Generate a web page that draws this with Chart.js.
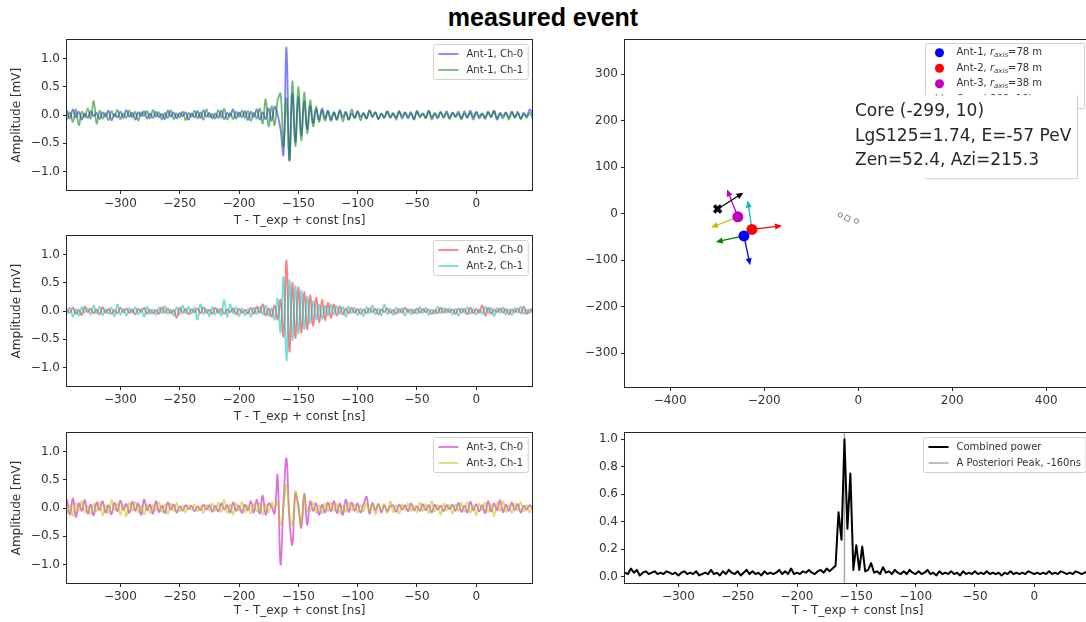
<!DOCTYPE html>
<html>
<head>
<meta charset="utf-8">
<script src="https://cdn.jsdelivr.net/npm/chart.js@4.4.0/dist/chart.umd.min.js"></script>
<style>
html, body { margin: 0; padding: 0; background: #fff; }
body { width: 1086px; height: 622px; overflow: hidden; position: relative; }
#title { position: absolute; left: 0; top: 3px; width: 1086px; text-align: center;
         font: bold 25px "Liberation Sans", Arial, sans-serif; color: #000; }
canvas { position: absolute; }
</style>
</head>
<body>
<div id="title">measured event</div>
<canvas id="ant1" width="545" height="200" style="left:0;top:30px"></canvas>
<canvas id="ant2" width="545" height="200" style="left:0;top:226px"></canvas>
<canvas id="ant3" width="545" height="200" style="left:0;top:422px"></canvas>
<canvas id="map" width="545" height="382" style="left:558px;top:30px"></canvas>
<canvas id="power" width="545" height="200" style="left:558px;top:422px"></canvas>
<script>
// sample times [ns]
var timeNs = [
  -345,-342.5,-340,-337.5,-335,-332.5,-330,-327.5,-325,-322.5,
  -320,-317.5,-315,-312.5,-310,-307.5,-305,-302.5,-300,-297.5,
  -295,-292.5,-290,-287.5,-285,-282.5,-280,-277.5,-275,-272.5,
  -270,-267.5,-265,-262.5,-260,-257.5,-255,-252.5,-250,-247.5,
  -245,-242.5,-240,-237.5,-235,-232.5,-230,-227.5,-225,-222.5,
  -220,-217.5,-215,-212.5,-210,-207.5,-205,-202.5,-200,-197.5,
  -195,-192.5,-190,-187.5,-185,-182.5,-180,-177.5,-175,-172.5,
  -170,-167.5,-165,-162.5,-160,-157.5,-155,-152.5,-150,-147.5,
  -145,-142.5,-140,-137.5,-135,-132.5,-130,-127.5,-125,-122.5,
  -120,-117.5,-115,-112.5,-110,-107.5,-105,-102.5,-100,-97.5,
  -95,-92.5,-90,-87.5,-85,-82.5,-80,-77.5,-75,-72.5,
  -70,-67.5,-65,-62.5,-60,-57.5,-55,-52.5,-50,-47.5,
  -45,-42.5,-40,-37.5,-35,-32.5,-30,-27.5,-25,-22.5,
  -20,-17.5,-15,-12.5,-10,-7.5,-5,-2.5,0,2.5,
  5,7.5,10,12.5,15,17.5,20,22.5,25,27.5,
  30,32.5,35,37.5,40,42.5,45,47.5
];

var ant1Ch0 = [
  0.08,-0.06,0.10,-0.04,0.06,-0.08,0.03,-0.05,0.07,-0.02,
  0.04,-0.07,0.05,-0.03,0.08,-0.09,0.02,-0.04,0.06,-0.05,
  0.09,-0.03,0.04,-0.08,0.05,-0.02,0.07,-0.06,0.03,-0.05,
  0.06,-0.04,0.02,-0.07,0.08,-0.03,0.05,-0.06,0.04,-0.02,
  0.05,-0.08,0.03,-0.04,0.07,-0.05,0.09,-0.03,0.04,-0.06,
  0.03,-0.05,0.08,-0.07,0.04,-0.02,0.10,-0.06,0.05,-0.04,
  0.07,-0.09,0.06,-0.03,0.10,-0.08,0.05,-0.07,0.12,-0.10,
  0.15,0.02,-0.25,-0.70,1.20,-0.80,0.38,-0.48,0.32,-0.36,
  0.24,-0.25,0.16,-0.14,0.10,-0.08,0.12,-0.06,0.08,-0.10,
  0.05,-0.07,0.09,-0.04,0.06,-0.08,0.03,-0.05,0.07,-0.03,
  0.04,-0.06,0.08,-0.02,0.05,-0.07,0.03,-0.04,0.06,-0.05,
  0.02,-0.04,0.07,-0.06,0.04,-0.03,0.05,-0.08,0.06,-0.02,
  0.03,-0.05,0.08,-0.04,0.02,-0.06,0.05,-0.03,0.07,-0.05,
  0.04,-0.02,0.06,-0.07,0.03,-0.05,0.08,-0.04,0.05,-0.06,
  0.02,-0.04,0.06,-0.03,0.07,-0.08,0.04,-0.02,0.05,-0.04,
  0.06,-0.05,0.03,-0.06,0.04,-0.02,0.10,0.02
];
var ant1Ch1 = [
  -0.08,0.05,-0.12,0.10,-0.18,0.06,-0.04,0.12,-0.06,0.25,
  -0.15,0.08,-0.06,0.04,-0.09,0.07,-0.03,0.09,-0.07,0.03,
  -0.05,0.08,-0.04,0.06,-0.10,0.05,-0.02,0.07,-0.06,0.09,
  -0.03,0.05,-0.08,0.04,-0.05,0.09,-0.07,0.03,-0.04,0.06,
  -0.09,0.04,-0.03,0.08,-0.06,0.05,-0.08,0.10,-0.04,0.02,
  -0.06,0.09,-0.05,0.11,-0.08,0.04,-0.07,0.06,-0.03,0.08,
  -0.05,0.07,-0.10,0.04,-0.06,0.12,-0.15,0.28,-0.20,0.16,
  -0.18,0.25,0.38,-0.55,0.30,-0.80,0.60,-0.55,0.50,-0.45,
  0.40,-0.32,0.26,-0.20,0.15,-0.12,0.08,-0.10,0.06,-0.08,
  0.05,-0.09,0.07,-0.11,0.04,-0.08,0.10,-0.05,0.06,-0.09,
  0.03,-0.06,0.08,-0.04,0.05,-0.07,0.02,-0.05,0.07,-0.03,
  0.04,-0.08,0.06,-0.02,0.05,-0.06,0.03,-0.07,0.08,-0.04,
  0.02,-0.05,0.07,-0.08,0.04,-0.03,0.06,-0.05,0.03,-0.07,
  0.05,-0.04,0.02,-0.06,0.07,-0.03,0.04,-0.08,0.06,-0.02,
  0.03,-0.07,0.05,-0.04,0.08,-0.05,0.02,-0.06,0.04,-0.08,
  0.05,-0.03,0.06,-0.07,0.02,-0.05,0.04,-0.06
];
var ant2Ch0 = [
  0.04,-0.03,0.06,-0.05,0.02,-0.07,0.08,-0.02,0.05,-0.04,
  0.03,-0.06,0.07,-0.03,0.04,-0.05,0.02,-0.04,0.06,-0.02,
  0.05,-0.03,0.03,-0.06,0.04,-0.02,0.06,-0.05,0.03,-0.04,
  0.02,-0.05,0.07,-0.03,0.05,-0.04,0.02,-0.12,0.06,-0.03,
  0.04,-0.06,0.03,-0.02,0.05,-0.04,0.07,-0.03,0.02,-0.05,
  0.06,-0.03,0.04,-0.05,0.03,-0.02,0.05,-0.06,0.04,-0.03,
  0.02,-0.04,0.06,-0.05,0.08,-0.03,0.12,-0.08,0.05,-0.10,
  0.10,-0.15,0.20,-0.45,0.90,-0.72,0.50,-0.48,0.42,-0.38,
  0.34,-0.32,0.28,-0.26,0.24,-0.20,0.20,-0.16,0.15,-0.12,
  0.12,-0.08,0.09,-0.06,0.05,-0.04,0.06,-0.03,0.04,-0.05,
  0.03,-0.04,0.05,-0.02,0.04,-0.06,0.03,-0.02,0.05,-0.03,
  0.02,-0.05,0.04,-0.03,0.06,-0.02,0.03,-0.04,0.05,-0.03,
  0.04,-0.02,0.03,-0.05,0.02,-0.04,0.06,-0.03,0.04,-0.02,
  0.03,-0.05,0.05,-0.03,0.04,-0.06,0.06,-0.04,0.04,-0.03,
  0.10,-0.08,0.06,-0.05,0.03,-0.02,0.05,-0.03,0.04,-0.06,
  0.03,-0.02,0.05,-0.04,0.08,-0.05,0.03,-0.02
];
var ant2Ch1 = [
  -0.05,0.06,-0.10,0.04,-0.08,0.07,-0.03,0.05,-0.06,0.10,
  -0.04,0.08,-0.07,0.03,-0.05,0.06,-0.09,0.12,-0.06,0.04,
  -0.08,0.05,-0.03,0.07,-0.06,0.04,-0.10,0.08,-0.05,0.03,
  -0.07,0.06,-0.04,0.09,-0.05,0.03,-0.08,0.07,-0.06,0.10,
  -0.04,0.08,-0.05,0.06,-0.15,0.12,-0.05,0.04,-0.09,0.07,
  -0.06,0.05,-0.08,0.20,-0.10,0.12,-0.04,0.07,-0.09,0.05,
  -0.07,0.04,-0.10,0.06,-0.05,0.08,-0.06,0.10,-0.08,0.05,
  -0.15,0.22,-0.38,0.60,-0.88,0.55,-0.52,0.45,-0.40,0.36,
  -0.32,0.26,-0.22,0.18,-0.15,0.12,-0.14,0.10,-0.08,0.12,
  -0.06,0.09,-0.05,0.07,-0.10,0.08,-0.04,0.06,-0.07,0.05,
  -0.09,0.07,-0.04,0.10,-0.06,0.05,-0.08,0.12,-0.05,0.04,
  -0.07,0.06,-0.03,0.05,-0.08,0.04,-0.06,0.03,-0.05,0.07,
  -0.04,0.06,-0.07,0.03,-0.05,0.08,-0.04,0.06,-0.03,0.05,
  -0.06,0.04,-0.08,0.05,-0.03,0.07,-0.05,0.04,-0.06,0.03,
  -0.05,0.08,-0.04,0.06,-0.09,0.05,-0.03,0.07,-0.06,0.04,
  -0.07,0.05,-0.03,0.08,-0.05,0.03,-0.04,0.06
];
var ant3Ch0 = [
  0.15,-0.12,0.17,-0.16,0.08,-0.05,0.14,-0.10,0.06,-0.13,
  0.10,-0.04,0.12,-0.08,0.05,-0.11,0.09,-0.06,0.13,-0.03,
  0.07,-0.09,0.11,-0.05,0.08,-0.12,0.15,-0.04,0.06,-0.10,
  0.12,-0.07,0.04,-0.09,0.10,-0.03,0.06,-0.08,0.03,-0.05,
  0.05,-0.02,0.04,-0.06,0.03,-0.04,0.06,-0.03,0.05,-0.07,
  0.04,-0.06,0.08,-0.03,0.05,-0.08,0.10,-0.05,0.04,-0.09,
  0.06,-0.04,0.12,-0.08,0.15,-0.10,0.22,-0.12,0.08,0.02,
  -0.10,0.58,-1.00,0.10,0.88,-0.20,-0.65,0.25,0.05,-0.35,
  0.25,-0.30,0.12,-0.05,0.08,-0.12,0.06,-0.08,0.10,-0.06,
  0.12,-0.09,0.08,-0.12,0.15,-0.07,0.10,-0.05,0.08,-0.08,
  0.06,0.20,-0.10,0.09,-0.04,0.07,-0.08,0.05,-0.06,0.03,
  0.04,-0.07,0.06,-0.03,0.05,-0.06,0.08,-0.04,0.03,-0.05,
  0.07,-0.04,0.05,-0.08,0.06,-0.03,0.04,-0.06,0.05,-0.02,
  0.06,-0.05,0.09,-0.07,0.04,-0.08,0.11,-0.04,0.07,-0.06,
  0.05,-0.09,0.12,-0.06,0.08,-0.04,0.14,-0.07,0.06,-0.05,
  0.10,-0.04,0.07,-0.08,0.04,-0.03,0.05,-0.02
];
var ant3Ch1 = [
  -0.10,0.06,-0.14,0.09,-0.05,0.12,-0.08,0.04,-0.11,0.07,
  -0.06,0.10,-0.13,0.05,-0.09,0.14,-0.04,0.08,-0.12,0.06,
  -0.15,0.09,-0.05,0.11,-0.08,0.04,-0.12,0.07,-0.09,0.05,
  -0.04,0.10,-0.07,0.06,-0.11,0.08,-0.05,0.09,-0.06,0.04,
  -0.08,0.05,-0.03,0.07,-0.06,0.04,-0.09,0.06,-0.04,0.08,
  -0.05,0.10,-0.07,0.15,-0.09,0.06,-0.12,0.08,-0.05,0.11,
  -0.08,0.05,-0.10,0.07,-0.06,0.09,-0.12,0.06,-0.08,0.10,
  0.00,0.10,-0.30,0.00,0.42,-0.10,-0.30,0.30,0.00,-0.30,
  0.25,-0.05,-0.05,0.10,-0.08,0.05,-0.10,0.08,-0.06,0.09,
  -0.05,0.07,-0.09,0.05,-0.07,0.10,-0.04,0.06,-0.08,0.04,
  -0.06,0.09,-0.05,0.08,-0.11,0.06,-0.04,0.07,-0.09,0.12,
  -0.07,0.05,-0.10,0.06,-0.04,0.08,-0.06,0.04,-0.08,0.10,
  -0.05,0.07,-0.09,0.12,-0.06,0.05,-0.12,0.08,-0.04,0.06,
  -0.10,0.06,-0.05,0.09,-0.07,0.11,-0.08,0.05,-0.13,0.07,
  -0.04,0.10,-0.08,0.06,-0.14,0.09,-0.05,0.12,-0.07,0.05,
  -0.09,0.07,-0.04,0.11,-0.06,0.05,-0.08,0.04
];
var combinedPower = [
  0.03,0.02,0.06,0.03,0.05,0.01,0.03,0.04,0.02,0.03,
  0.04,0.02,0.03,0.02,0.04,0.03,0.02,0.03,0.01,0.03,
  0.04,0.02,0.03,0.02,0.04,0.01,0.02,0.03,0.02,0.05,
  0.02,0.03,0.01,0.04,0.02,0.05,0.03,0.02,0.04,0.01,
  0.03,0.05,0.02,0.04,0.02,0.03,0.01,0.04,0.02,0.03,
  0.02,0.03,0.05,0.02,0.04,0.02,0.06,0.02,0.03,0.02,
  0.04,0.03,0.05,0.03,0.02,0.04,0.05,0.03,0.06,0.04,
  0.06,0.08,0.47,0.27,1.00,0.35,0.75,0.05,0.23,0.05,
  0.22,0.04,0.05,0.10,0.03,0.04,0.02,0.07,0.03,0.04,
  0.02,0.05,0.03,0.02,0.04,0.02,0.05,0.03,0.02,0.04,
  0.02,0.03,0.05,0.02,0.03,0.01,0.04,0.02,0.03,0.02,
  0.04,0.02,0.03,0.01,0.04,0.02,0.03,0.02,0.04,0.02,
  0.03,0.02,0.04,0.02,0.03,0.02,0.03,0.01,0.03,0.02,
  0.04,0.02,0.03,0.02,0.03,0.02,0.04,0.03,0.02,0.03,
  0.02,0.03,0.02,0.04,0.02,0.03,0.02,0.04,0.03,0.02,
  0.03,0.02,0.04,0.03,0.02,0.03,0.04,0.03
];
var peakTimeNs = -160;

// ticks
var timeTicks = [-300, -250, -200, -150, -100, -50, 0];
var ampTicks = [-1, -0.5, 0, 0.5, 1];
var powerTicks = [0, 0.2, 0.4, 0.6, 0.8, 1.0];
var mapXTicks = [-400, -200, 0, 200, 400];
var mapYTicks = [-300, -200, -100, 0, 100, 200, 300];

// ground map [m]
var antNames = ['Ant-1', 'Ant-2', 'Ant-3'];
var antRaxis = [78, 78, 38];
var antX = [-243, -226, -256];
var antY = [-48, -34, -7];
var ch0TipX = [-230, -162, -279];
var ch0TipY = [-111, -26, 52];
var ch1TipX = [-303, -235, -313];
var ch1TipY = [-61, 28, -30];
var coreX = -299, coreY = 10;
var coreTipX = -244, coreTipY = 45;
var otherX = [-38, -23, -4];
var otherY = [-3, -10, -16];
var lgS125 = 1.74, energyPeV = -57, zenithDeg = 52.4, azimuthDeg = 215.3;

var ch0Line = ['rgba(0,0,255,0.5)', 'rgba(255,0,0,0.5)', 'rgba(191,0,191,0.55)'];
var ch1Line = ['rgba(0,128,0,0.55)', 'rgba(0,191,191,0.55)', 'rgba(191,191,0,0.55)'];
var ch0Solid = ['#0000ff', '#ff0000', '#bf00bf'];
var ch1Solid = ['#008000', '#00bfbf', '#bfbf00'];

var FONT = "'DejaVu Sans', sans-serif";
Chart.defaults.font.family = FONT;
Chart.defaults.font.size = 12;
Chart.defaults.color = '#333';

function pts(ys) {
  return timeNs.map(function (t, i) { return {x: t, y: ys[i]}; });
}
function fixedTicks(values) {
  return function (scale) { scale.ticks = values.map(function (v) { return {value: v}; }); };
}
function fmt(dec) {
  return function (v) { return Number(v).toFixed(dec).replace('-', '\u2212'); };
}

// label with optional $r_{axis}$ math part
function labelParts(text) {
  var out = [];
  text.split(/(\$[^$]*\$)/).forEach(function (p) {
    if (!p) return;
    var m = /^\$(\w+)_\{(\w+)\}\$$/.exec(p);
    if (m) {
      out.push({t: m[1], font: 'italic 10px ' + FONT, dy: 0});
      out.push({t: m[2], font: 'italic 7px ' + FONT, dy: 2.5});
    } else {
      out.push({t: p, font: '10px ' + FONT, dy: 0});
    }
  });
  return out;
}
function labelWidth(ctx, text) {
  var w = 0;
  labelParts(text).forEach(function (p) { ctx.font = p.font; w += ctx.measureText(p.t).width; });
  return w;
}
function drawLabel(ctx, text, x, y) {
  ctx.textBaseline = 'middle';
  ctx.textAlign = 'left';
  labelParts(text).forEach(function (p) {
    ctx.font = p.font;
    ctx.fillText(p.t, x, y + p.dy);
    x += ctx.measureText(p.t).width;
  });
}

var framePlugin = {
  id: 'frame',
  afterDatasetsDraw: function (chart) {
    var a = chart.chartArea, ctx = chart.ctx;
    ctx.save();
    ctx.strokeStyle = '#262626';
    ctx.lineWidth = 1;
    ctx.strokeRect(Math.round(a.left) - 0.5, Math.round(a.top) - 0.5,
      Math.round(a.right - a.left) + 1, Math.round(a.bottom - a.top) + 1);
    ctx.restore();
  }
};

var boxLegend = {
  id: 'boxLegend',
  afterDraw: function (chart, args, o) {
    if (!o || !o.show) return;
    var ctx = chart.ctx, a = chart.chartArea;
    var items = chart.data.datasets.filter(function (d) { return d.label; });
    ctx.save();
    var tw = 0;
    items.forEach(function (d) { tw = Math.max(tw, labelWidth(ctx, d.label)); });
    var rowH = o.rowH || 16;
    var w = o.width || (5 + 20 + 8 + tw + 5), h = items.length * rowH + 3;
    var x0 = o.left != null ? a.left + o.left : a.right - 4 - w;
    var y0 = a.top + (o.top != null ? o.top : 4);
    x0 = Math.round(x0) + 0.5; y0 = Math.round(y0) + 0.5;
    ctx.beginPath();
    ctx.roundRect(x0, y0, w, h, 2);
    ctx.fillStyle = 'rgba(255,255,255,0.85)';
    ctx.fill();
    ctx.strokeStyle = '#d0d0d0';
    ctx.lineWidth = 1;
    ctx.stroke();
    items.forEach(function (d, k) {
      var cy = y0 + 1.5 + rowH / 2 + k * rowH;
      if (d.legendMarker === 'dot') {
        ctx.beginPath();
        ctx.arc(x0 + 14, cy, 4.5, 0, Math.PI * 2);
        ctx.fillStyle = d.backgroundColor;
        ctx.fill();
      } else if (d.legendMarker === 'x') {
        ctx.strokeStyle = d.borderColor;
        ctx.lineWidth = 3;
        ctx.beginPath();
        ctx.moveTo(x0 + 10, cy - 4); ctx.lineTo(x0 + 18, cy + 4);
        ctx.moveTo(x0 + 18, cy - 4); ctx.lineTo(x0 + 10, cy + 4);
        ctx.stroke();
      } else {
        ctx.strokeStyle = d.borderColor;
        ctx.lineWidth = d.borderWidth;
        ctx.beginPath();
        ctx.moveTo(x0 + 5, cy); ctx.lineTo(x0 + 25, cy);
        ctx.stroke();
      }
      ctx.fillStyle = '#333';
      drawLabel(ctx, d.label, x0 + (d.legendMarker ? 31 : 33), cy);
    });
    ctx.restore();
  }
};

var infoBox = {
  id: 'infoBox',
  afterDraw: function (chart, args, o) {
    if (!o || !o.lines) return;
    var ctx = chart.ctx, a = chart.chartArea;
    var bx0 = a.left + o.box[0], by0 = a.top + o.box[1];
    var bx1 = a.left + o.box[2], by1 = a.top + o.box[3];
    ctx.save();
    ctx.fillStyle = '#fff';
    ctx.fillRect(bx0, by0, bx1 - bx0, by1 - by0);
    ctx.strokeStyle = '#cfcfcf';
    ctx.lineWidth = 1;
    ctx.beginPath();
    ctx.moveTo(bx1 + 0.5, by0); ctx.lineTo(bx1 + 0.5, by1 + 0.5); ctx.lineTo(bx0, by1 + 0.5);
    ctx.stroke();
    ctx.fillStyle = '#262626';
    ctx.font = '17px ' + FONT;
    ctx.textAlign = 'left';
    ctx.textBaseline = 'alphabetic';
    o.lines.forEach(function (t, k) {
      ctx.fillText(t, a.left + o.textX, a.top + o.textY + k * o.lineH);
    });
    ctx.restore();
  }
};

function drawArrow(ctx, x0, y0, x1, y1, color) {
  var ang = Math.atan2(y1 - y0, x1 - x0), c = Math.cos(ang), s = Math.sin(ang);
  var hl = 7, hw = 3;
  ctx.strokeStyle = color; ctx.fillStyle = color; ctx.lineWidth = 1.3;
  ctx.beginPath();
  ctx.moveTo(x0, y0); ctx.lineTo(x1 - hl * 0.7 * c, y1 - hl * 0.7 * s);
  ctx.stroke();
  ctx.beginPath();
  ctx.moveTo(x1, y1);
  ctx.lineTo(x1 - hl * c + hw * s, y1 - hl * s - hw * c);
  ctx.lineTo(x1 - hl * c - hw * s, y1 - hl * s + hw * c);
  ctx.closePath();
  ctx.fill();
}

var arrowPlugin = {
  id: 'arrows',
  beforeDatasetsDraw: function (chart) {
    var xs = chart.scales.x, ys = chart.scales.y, ctx = chart.ctx;
    ctx.save();
    for (var k = 0; k < antX.length; k++) {
      var px = xs.getPixelForValue(antX[k]), py = ys.getPixelForValue(antY[k]);
      drawArrow(ctx, px, py, xs.getPixelForValue(ch0TipX[k]), ys.getPixelForValue(ch0TipY[k]), ch0Solid[k]);
      drawArrow(ctx, px, py, xs.getPixelForValue(ch1TipX[k]), ys.getPixelForValue(ch1TipY[k]), ch1Solid[k]);
    }
    drawArrow(ctx, xs.getPixelForValue(coreX), ys.getPixelForValue(coreY),
      xs.getPixelForValue(coreTipX), ys.getPixelForValue(coreTipY), '#000');
    ctx.restore();
  }
};

var gridOpts = {drawOnChartArea: false, drawTicks: true, tickLength: 4, color: '#262626', lineWidth: 1};

function axisX(min, max, ticks, dec, height, title, titlePad) {
  return {
    type: 'linear', min: min, max: max,
    afterBuildTicks: fixedTicks(ticks),
    afterFit: function (s) { s.height = height; },
    grid: gridOpts, border: {display: false},
    ticks: {callback: fmt(dec), autoSkip: false, maxRotation: 0, padding: 3},
    title: {display: !!title, text: title, padding: {top: 0, bottom: titlePad}}
  };
}
function axisY(min, max, ticks, dec, title) {
  return {
    type: 'linear', min: min, max: max,
    afterBuildTicks: fixedTicks(ticks),
    afterFit: function (s) { s.width = 67; },
    grid: gridOpts, border: {display: false},
    ticks: {callback: fmt(dec), autoSkip: false, padding: 3},
    title: {display: !!title, text: title, padding: {top: 10, bottom: 0}}
  };
}
function lineSet(label, ys, color, order) {
  return {label: label, data: pts(ys), borderColor: color, borderWidth: 1.8, pointRadius: 0,
    fill: false, tension: 0.4, borderJoinStyle: 'round', order: order};
}

var xTitle = 'T - T_exp + const [ns]';
var waves = [[ant1Ch0, ant1Ch1], [ant2Ch0, ant2Ch1], [ant3Ch0, ant3Ch1]];
var padTops = [10, 10, 11];
var xHeights = [40, 40, 39];
var titlePads = [2, 2, 4];

['ant1', 'ant2', 'ant3'].forEach(function (id, k) {
  new Chart(document.getElementById(id), {
    type: 'line',
    data: {datasets: [
      lineSet(antNames[k] + ', Ch-0', waves[k][0], ch0Line[k], 1),
      lineSet(antNames[k] + ', Ch-1', waves[k][1], ch1Line[k], 0)
    ]},
    options: {
      responsive: false, animation: false, events: [],
      layout: {padding: {left: 0, right: 13, top: padTops[k], bottom: 0}},
      plugins: {legend: {display: false}, tooltip: {enabled: false}, boxLegend: {show: true}},
      scales: {
        x: axisX(-345, 47, timeTicks, 0, xHeights[k], xTitle, titlePads[k]),
        y: axisY(-1.33, 1.33, ampTicks, 1, 'Amplitude [mV]')
      }
    },
    plugins: [framePlugin, boxLegend]
  });
});

// combined power
new Chart(document.getElementById('power'), {
  type: 'line',
  data: {datasets: [
    {label: 'Combined power', data: pts(combinedPower), borderColor: '#000', borderWidth: 2,
     pointRadius: 0, fill: false, tension: 0, borderJoinStyle: 'round'},
    {label: 'A Posteriori Peak, ' + peakTimeNs + 'ns',
     data: [{x: peakTimeNs, y: -1}, {x: peakTimeNs, y: 2}],
     borderColor: '#a8a8a8', borderWidth: 1.5, pointRadius: 0, fill: false}
  ]},
  options: {
    responsive: false, animation: false, events: [],
    layout: {padding: {left: 0, right: 13, top: 11, bottom: 0}},
    plugins: {legend: {display: false}, tooltip: {enabled: false}, boxLegend: {show: true}},
    scales: {
      x: axisX(-345, 47, timeTicks, 0, 39, xTitle, 4),
      y: axisY(-0.045, 1.045, powerTicks, 1, '')
    }
  },
  plugins: [framePlugin, boxLegend]
});

// ground map
var mapSets = [];
for (var k = 0; k < antNames.length; k++) {
  mapSets.push({
    label: antNames[k] + ', $r_{axis}$=' + antRaxis[k] + ' m',
    data: [{x: antX[k], y: antY[k]}],
    backgroundColor: ch0Solid[k], borderWidth: 0, pointRadius: 5.5, legendMarker: 'dot'
  });
}
mapSets.push({
  label: 'Core (' + coreX + ', ' + coreY + ')',
  data: [{x: coreX, y: coreY}],
  pointStyle: 'crossRot', pointRadius: 5, borderColor: '#000', borderWidth: 3.5, legendMarker: 'x'
});
mapSets.push({
  data: otherX.map(function (x, i) { return {x: x, y: otherY[i]}; }),
  pointStyle: ['circle', 'rect', 'circle'], rotation: [0, 30, 0], pointRadius: [2.2, 3.6, 2.2],
  backgroundColor: '#fff', borderColor: '#808080', borderWidth: 1
});

new Chart(document.getElementById('map'), {
  type: 'scatter',
  data: {datasets: mapSets},
  options: {
    responsive: false, animation: false, events: [],
    layout: {padding: {left: 0, right: 13, top: 10, bottom: 0}},
    plugins: {
      legend: {display: false}, tooltip: {enabled: false},
      boxLegend: {show: true, left: 300, top: 3, rowH: 15.5, width: 159},
      infoBox: {
        box: [300, 55, 452, 138], textX: 230, textY: 76, lineH: 24.5,
        lines: ['Core (' + coreX + ', ' + coreY + ')',
                'LgS125=' + lgS125 + ', E=' + energyPeV + ' PeV',
                'Zen=' + zenithDeg + ', Azi=' + azimuthDeg]
      }
    },
    scales: {
      x: axisX(-496, 493, mapXTicks, 0, 25, '', 0),
      y: axisY(-373, 373, mapYTicks, 0, '')
    }
  },
  plugins: [arrowPlugin, framePlugin, boxLegend, infoBox]
});
</script>
</body>
</html>
